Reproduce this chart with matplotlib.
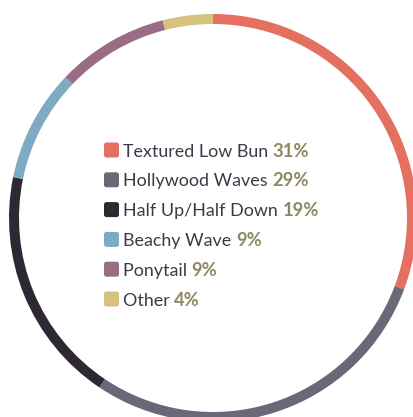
import matplotlib.pyplot as plt
from matplotlib.patches import FancyBboxPatch

# data
labels = ["Textured Low Bun", "Hollywood Waves", "Half Up/Half Down",
          "Beachy Wave", "Ponytail", "Other"]
values = [31, 29, 19, 9, 9, 4]
colors = ["#e56f60", "#6c6776", "#2e2833", "#7eaac3", "#9b6d85", "#d6c27d"]

plt.rcParams["font.family"] = ["Lato", "DejaVu Sans"]

W, H = 413, 417
fig = plt.figure(figsize=(W / 100, H / 100), dpi=100)
ax = fig.add_axes([0, 0, 1, 1])

# ring, clipped at right and bottom like the original
ax.pie(values, colors=colors, startangle=90, counterclock=False,
       center=(213, H - 218), radius=204,
       wedgeprops=dict(width=10, linewidth=0), frame=True)
ax.set_xlim(0, W)
ax.set_ylim(0, H)
ax.set_aspect("equal")
ax.axis("off")

# legend in the middle
y0 = H - 150
for i, (lab, v, c) in enumerate(zip(labels, values, colors)):
    y = y0 - i * 29.8
    ax.add_patch(FancyBboxPatch((104, y - 7.5), 15, 15,
                                boxstyle="round,pad=0,rounding_size=2.5",
                                fc=c, ec="none"))
    t = ax.text(123, y, lab + " ", fontsize=12.9, color="#3b3b47",
                va="center_baseline", ha="left")
    ax.annotate(f"{v}%", xycoords=t, xy=(1, 0), va="bottom",
                fontsize=13.2, color="#8d8962", fontweight="bold")

fig.savefig("out.png", dpi=100)
